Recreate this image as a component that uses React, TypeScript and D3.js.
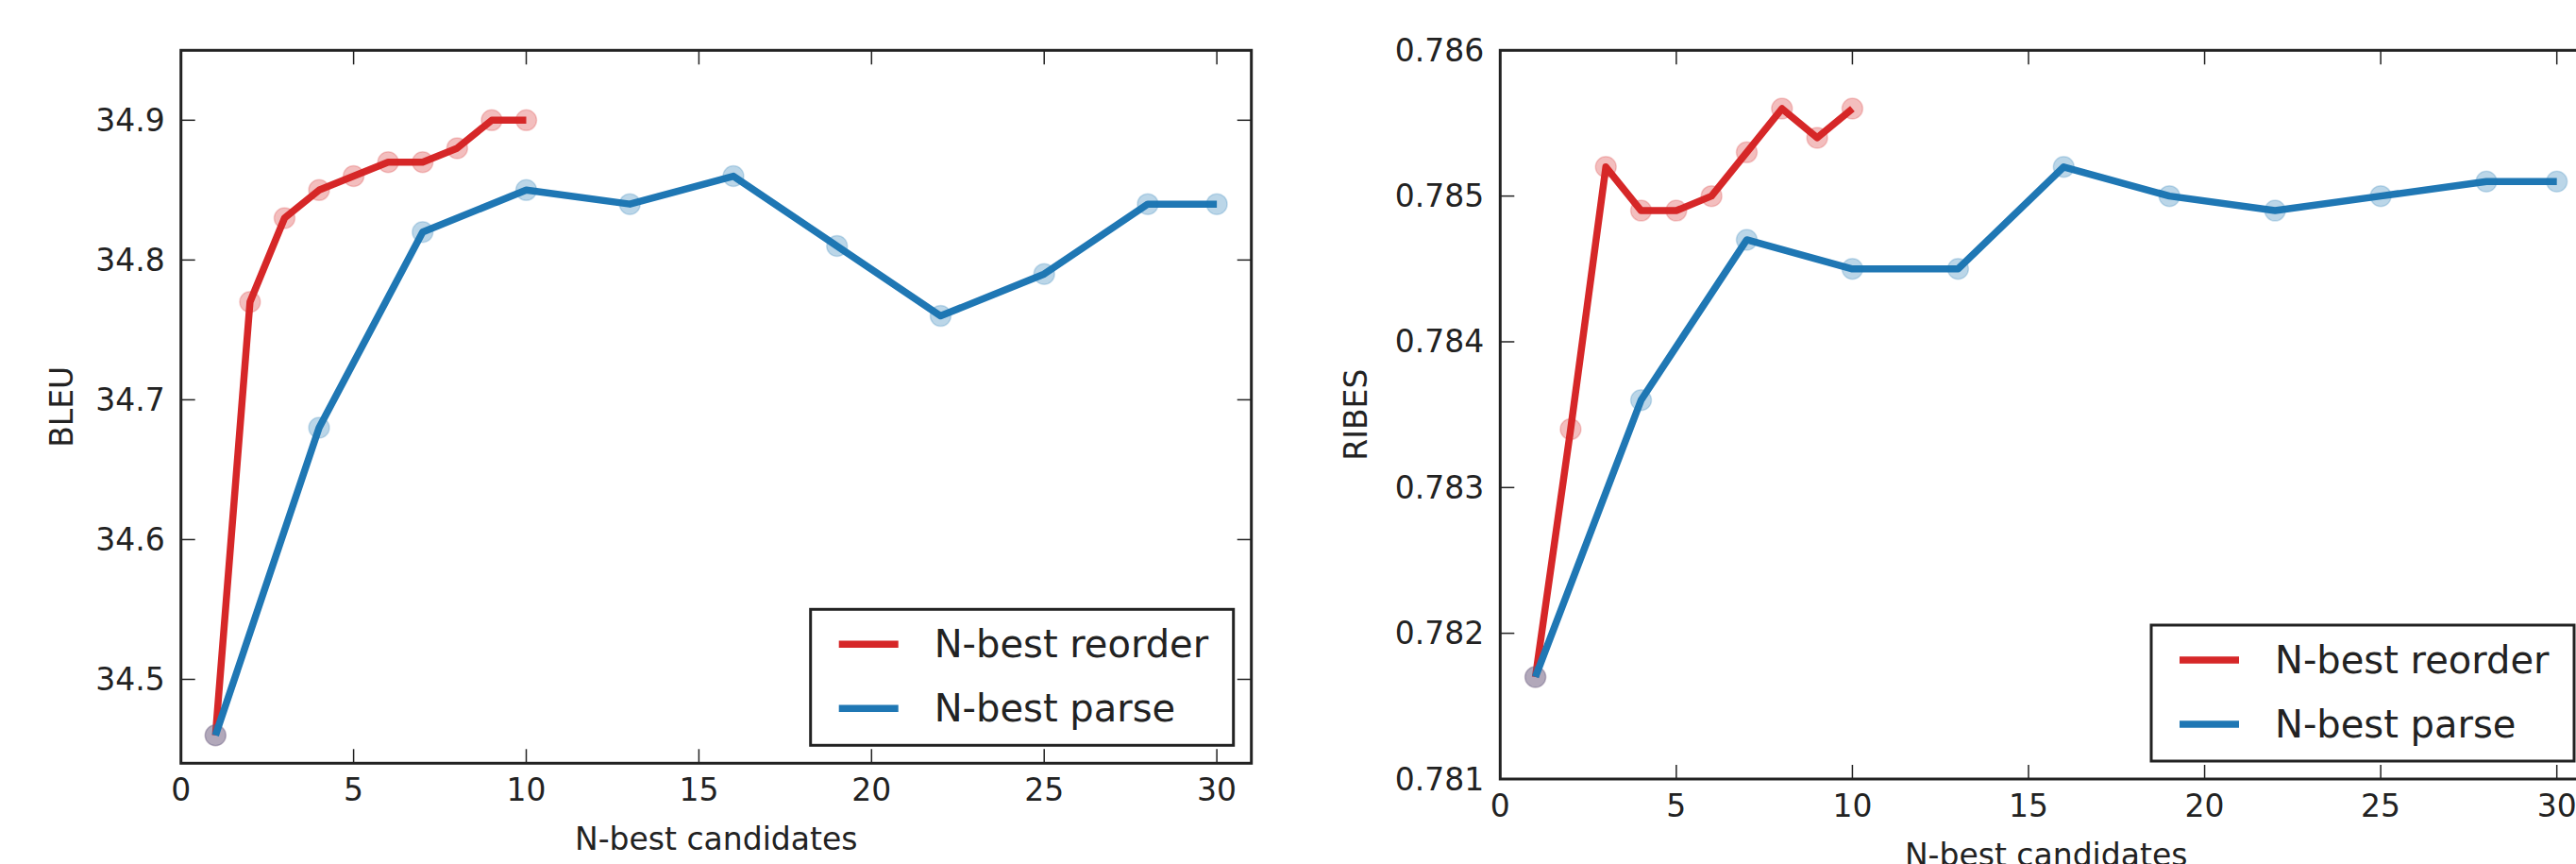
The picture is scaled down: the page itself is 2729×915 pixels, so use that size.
import { useEffect, useRef } from 'react'
import * as d3 from 'd3'

const reorderN = [1, 2, 3, 4, 5, 6, 7, 8, 9, 10]
const parseN = [1, 4, 7, 10, 13, 16, 19, 22, 25, 28, 30]

const bleuReorder = [34.46, 34.77, 34.83, 34.85, 34.86, 34.87, 34.87, 34.88, 34.90, 34.90]
const bleuParse = [34.46, 34.68, 34.82, 34.85, 34.84, 34.86, 34.81, 34.76, 34.79, 34.84, 34.84]

const ribesReorder = [0.7817, 0.7834, 0.7852, 0.7849, 0.7849, 0.7850, 0.7853, 0.7856, 0.7854, 0.7856]
const ribesParse = [0.7817, 0.7836, 0.7847, 0.7845, 0.7845, 0.7852, 0.7850, 0.7849, 0.7850, 0.7851, 0.7851]

const xTicks = [0, 5, 10, 15, 20, 25, 30]
const bleuTicks = [34.5, 34.6, 34.7, 34.8, 34.9]
const ribesTicks = [0.781, 0.782, 0.783, 0.784, 0.785, 0.786]

const seriesNames = ['N-best reorder', 'N-best parse']
const colors = ['#d62728', '#1f77b4']

const FONT = 'DejaVu Sans, sans-serif'
const INK = '#222'

export default function App() {
  const svgRef = useRef(null)

  useEffect(() => {
    const root = d3.select(svgRef.current)
    root.selectAll('*').remove()

    const panels = [
      {
        box: { left: 191.7, top: 53.3, right: 1325.7, bottom: 808.3 },
        yDomain: [34.44, 34.95], yTicks: bleuTicks, fmt: d3.format('.1f'),
        label: 'BLEU', labelOffset: 126,
        series: [bleuReorder, bleuParse]
      },
      {
        box: { left: 1589.3, top: 53.3, right: 2746, bottom: 825 },
        yDomain: [0.781, 0.786], yTicks: ribesTicks, fmt: d3.format('.3f'),
        label: 'RIBES', labelOffset: 153,
        series: [ribesReorder, ribesParse]
      }
    ]

    panels.forEach(p => {
      const { left, top, right, bottom } = p.box
      const g = root.append('g')

      const x = d3.scaleLinear().domain([0, 31]).range([left, right])
      const y = d3.scaleLinear().domain(p.yDomain).range([bottom, top])

      const line = d3.line().x(d => x(d[0])).y(d => y(d[1]))

      p.series.forEach((vals, i) => {
        const xs = i === 0 ? reorderN : parseN
        const pts = xs.map((n, k) => [n, vals[k]])
        g.append('path')
          .datum(pts)
          .attr('fill', 'none')
          .attr('stroke', colors[i])
          .attr('stroke-width', 7.5)
          .attr('stroke-linejoin', 'round')
          .attr('d', line)
        g.selectAll(null)
          .data(pts)
          .enter()
          .append('circle')
          .attr('cx', d => x(d[0]))
          .attr('cy', d => y(d[1]))
          .attr('r', 11)
          .attr('fill', colors[i])
          .attr('fill-opacity', 0.3)
          .attr('stroke', colors[i])
          .attr('stroke-opacity', 0.2)
          .attr('stroke-width', 1.5)
      })

      // inward ticks on all four sides
      const tickLen = 15
      xTicks.forEach(t => {
        g.append('line').attr('x1', x(t)).attr('x2', x(t)).attr('y1', bottom).attr('y2', bottom - tickLen)
          .attr('stroke', INK).attr('stroke-width', 1.5)
        g.append('line').attr('x1', x(t)).attr('x2', x(t)).attr('y1', top).attr('y2', top + tickLen)
          .attr('stroke', INK).attr('stroke-width', 1.5)
        g.append('text')
          .attr('x', x(t)).attr('y', bottom + 28)
          .attr('text-anchor', 'middle').attr('dominant-baseline', 'central')
          .attr('font-family', FONT).attr('font-size', 33).attr('fill', INK)
          .text(t)
      })
      p.yTicks.forEach(t => {
        g.append('line').attr('x1', left).attr('x2', left + tickLen).attr('y1', y(t)).attr('y2', y(t))
          .attr('stroke', INK).attr('stroke-width', 1.5)
        g.append('line').attr('x1', right).attr('x2', right - tickLen).attr('y1', y(t)).attr('y2', y(t))
          .attr('stroke', INK).attr('stroke-width', 1.5)
        g.append('text')
          .attr('x', left - 17).attr('y', y(t))
          .attr('text-anchor', 'end').attr('dominant-baseline', 'central')
          .attr('font-family', FONT).attr('font-size', 33).attr('fill', INK)
          .text(p.fmt(t))
      })

      g.append('rect')
        .attr('x', left).attr('y', top)
        .attr('width', right - left).attr('height', bottom - top)
        .attr('fill', 'none').attr('stroke', INK).attr('stroke-width', 3)

      g.append('text')
        .attr('x', (left + right) / 2).attr('y', bottom + 80)
        .attr('text-anchor', 'middle').attr('dominant-baseline', 'central')
        .attr('font-family', FONT).attr('font-size', 33).attr('fill', INK)
        .text('N-best candidates')

      const ly = (top + bottom) / 2
      const lx = left - p.labelOffset
      g.append('text')
        .attr('transform', `translate(${lx},${ly}) rotate(-90)`)
        .attr('text-anchor', 'middle').attr('dominant-baseline', 'central')
        .attr('font-family', FONT).attr('font-size', 33).attr('fill', INK)
        .text(p.label)

      // legend, lower right
      const lw = 448, lh = 144
      const lgx = right - 19 - lw
      const lgy = bottom - 19 - lh
      const lg = g.append('g').attr('transform', `translate(${lgx},${lgy})`)
      lg.append('rect')
        .attr('width', lw).attr('height', lh)
        .attr('fill', '#fff').attr('stroke', INK).attr('stroke-width', 3)
      seriesNames.forEach((name, i) => {
        const ry = 37 + i * 68
        lg.append('line')
          .attr('x1', 30).attr('x2', 93).attr('y1', ry).attr('y2', ry)
          .attr('stroke', colors[i]).attr('stroke-width', 7.5)
        lg.append('text')
          .attr('x', 131).attr('y', ry)
          .attr('dominant-baseline', 'central')
          .attr('font-family', FONT).attr('font-size', 40).attr('fill', INK)
          .text(name)
      })
    })
  }, [])

  return (
    <svg
      ref={svgRef}
      width={2729}
      height={915}
      style={{ position: 'absolute', left: 0, top: 0, background: '#fff' }}
    />
  )
}
